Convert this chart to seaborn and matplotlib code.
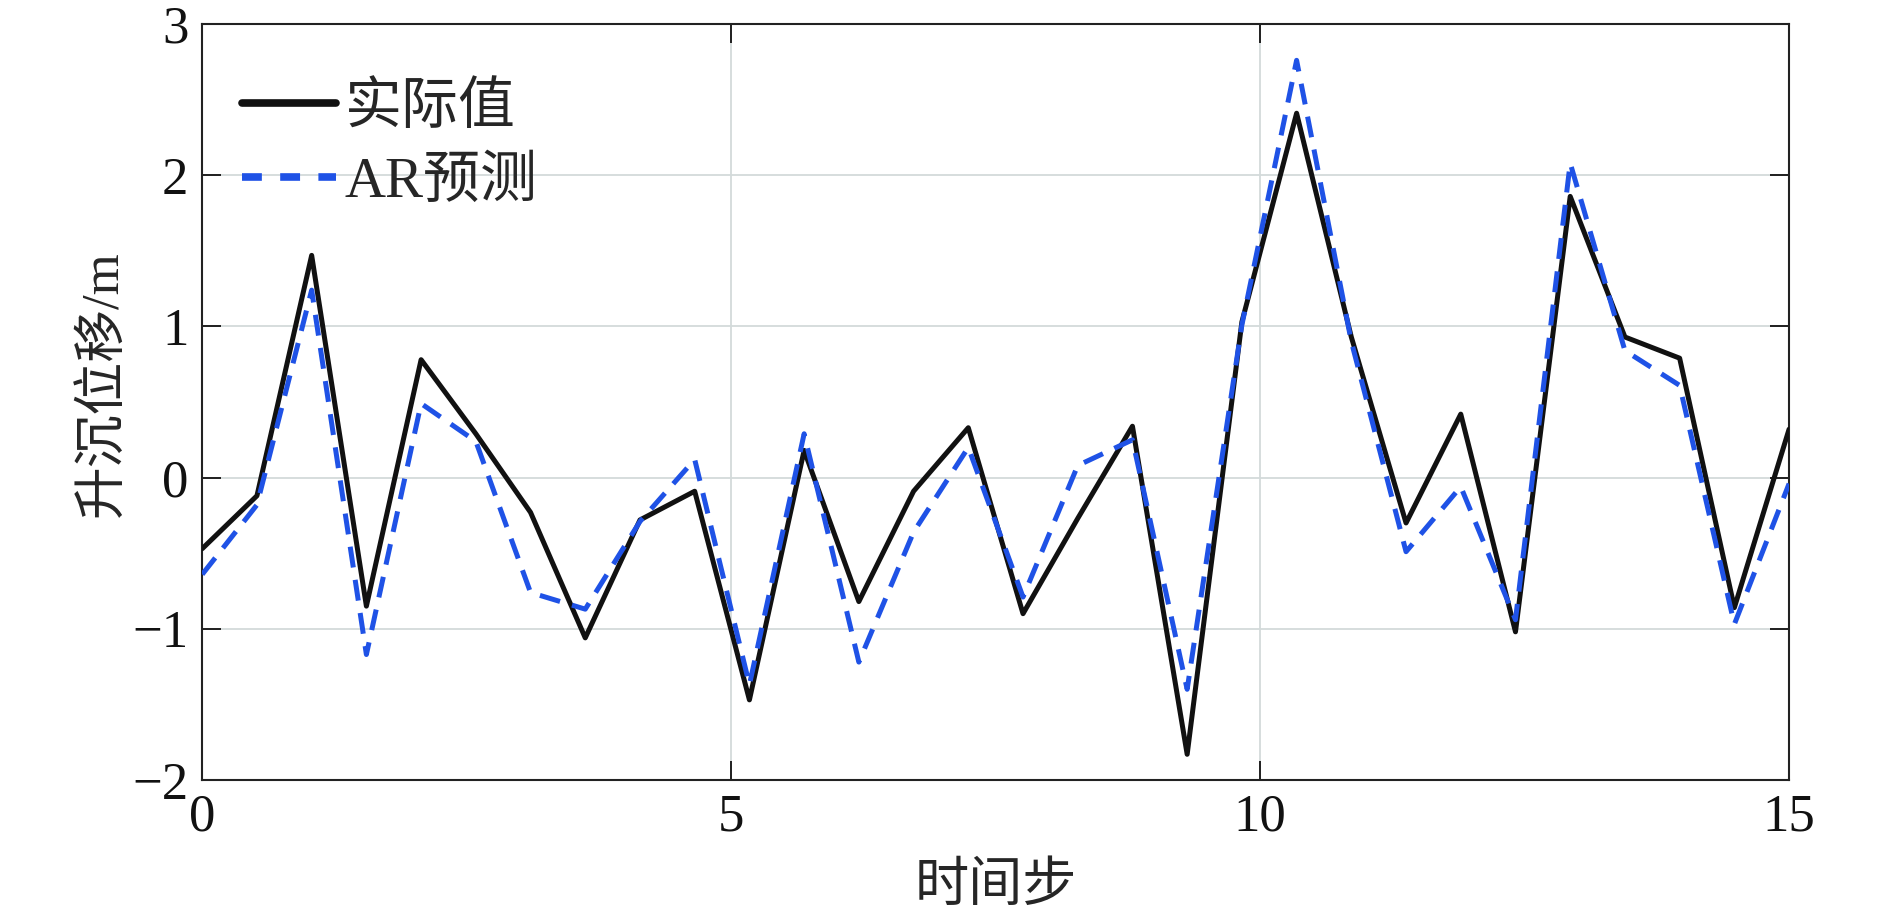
import numpy as np
import pandas as pd
import matplotlib
matplotlib.use("Agg")
import matplotlib.pyplot as plt
import seaborn as sns

# ---- data ----
time_step = np.linspace(0, 15, 30)
actual = [-0.47, -0.12, 1.47, -0.85, 0.78, 0.29, -0.23, -1.06, -0.28, -0.09,
          -1.47, 0.18, -0.82, -0.09, 0.33, -0.90, -0.27, 0.34, -1.83, 1.03,
          2.41, 0.93, -0.30, 0.42, -1.02, 1.86, 0.93, 0.79, -0.86, 0.32]
ar_pred = [-0.64, -0.18, 1.24, -1.17, 0.49, 0.24, -0.76, -0.87, -0.29, 0.12,
           -1.37, 0.29, -1.22, -0.36, 0.20, -0.79, 0.08, 0.25, -1.40, 1.01,
           2.76, 0.90, -0.49, -0.06, -0.94, 2.08, 0.84, 0.61, -0.97, -0.04]
series_names = ["实际值", "AR预测"]
x_ticks = [0, 5, 10, 15]
y_ticks = [-2, -1, 0, 1, 2, 3]

sns.set_theme(style="ticks")
plt.rcParams['font.family'] = ['Liberation Serif', 'Noto Sans CJK SC', 'DejaVu Sans']
plt.rcParams['axes.unicode_minus'] = True

df = pd.DataFrame({
    "t": np.concatenate([time_step, time_step]),
    "v": np.concatenate([actual, ar_pred]),
    "s": [series_names[0]] * len(time_step) + [series_names[1]] * len(time_step),
})

black = "#111111"
blue = "#1f52e6"

fig = plt.figure(figsize=(18.9, 9.14), dpi=100)
ax = fig.add_axes([0.107, 0.1466, 0.8396, 0.8271])

ax.grid(True, color="#d3dada", linewidth=1.3, zorder=0)
sns.lineplot(data=df, x="t", y="v", hue="s", style="s",
             palette={series_names[0]: black, series_names[1]: blue},
             dashes={series_names[0]: "", series_names[1]: (4.2, 2.5)},
             linewidth=3.6, ax=ax, zorder=3)

ax.set_xlim(0, 15)
ax.set_ylim(-2, 3)
ax.set_xticks(x_ticks)
ax.set_yticks(y_ticks)
ax.tick_params(direction="in", length=14, width=1.3, top=True, right=True,
               labelsize=38, pad=10, colors="#111111")
for sp in ax.spines.values():
    sp.set_linewidth(1.5)
    sp.set_color("#222222")

ax.set_xlabel("时间步", fontsize=39, labelpad=15)
ax.set_ylabel("升沉位移/m", fontsize=38)
ax.yaxis.set_label_coords(-0.047, 0.524)

leg = ax.legend(loc="upper left", frameon=False, prop={"size": 41},
                handlelength=1.65, handletextpad=0.15, labelspacing=0.38,
                borderaxespad=0.3, bbox_to_anchor=(0.0, 0.976))
lines = leg.get_lines()
for h in lines:
    h.set_linewidth(5.5)
lines[1].set_dashes((2.6, 2.4))

fig.savefig("out.png", dpi=100)
